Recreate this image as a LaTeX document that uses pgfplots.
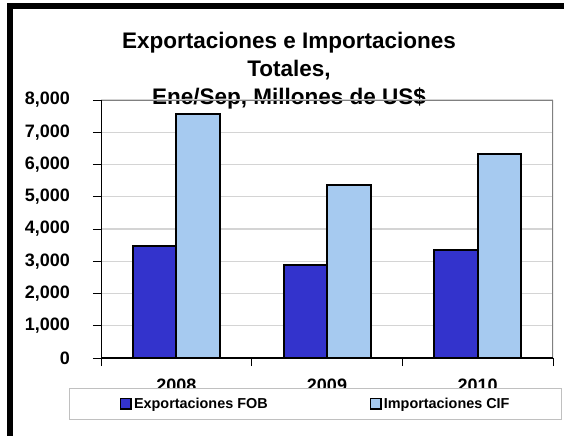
\documentclass[border=0pt]{standalone}
\usepackage{pgfplots}
\pgfplotsset{compat=1.18}
\usepackage{fontspec}
\setmainfont{Liberation Sans}
\definecolor{expblue}{RGB}{51,51,204}
\definecolor{impblue}{RGB}{166,202,240}
\definecolor{gridgray}{RGB}{212,212,212}
\definecolor{framegray}{RGB}{128,128,128}
\definecolor{leggray}{RGB}{192,192,192}
\begin{document}
\begin{tikzpicture}[x=1pt,y=1pt]
\useasboundingbox (0,0) rectangle (564,436);
\fill[white] (0,0) rectangle (564,436);
\fill[black] (7,0) rectangle (13,433);
\fill[black] (7,427) rectangle (564,433);
\node[font=\fontsize{22.5}{27}\selectfont\bfseries, anchor=base, inner sep=0pt] at (289,436-48.3) {Exportaciones e Importaciones};
\node[font=\fontsize{22.5}{27}\selectfont\bfseries, anchor=base, inner sep=0pt] at (289,436-76.7) {Totales,};
\node[font=\fontsize{22.5}{27}\selectfont\bfseries, anchor=base, inner sep=0pt] at (289,436-105) {Ene/Sep, Millones de US\$};
\begin{axis}[
  at={(101pt,78pt)}, anchor=south west,
  scale only axis, width=452pt, height=258pt,
  xmin=0, xmax=3, ymin=0, ymax=8000,
  ybar, bar width=43.5pt,
  axis line style={draw=none},
  tick align=outside,
  major tick length=8pt,
  tick style={black, line width=1pt},
  xtick={0,1,2,3}, xticklabels={,,,},
  extra x ticks={0.5,1.5,2.5},
  extra x tick labels={2008,2009,2010},
  extra x tick style={major tick length=0pt, grid=none},
  xtick pos=bottom, ytick pos=left,
  ytick={0,1000,...,8000},
  ymajorgrids,
  major grid style={gridgray, line width=1.2pt},
  /pgf/number format/assume math mode=true,
  /pgf/number format/.cd, 1000 sep={,}, /pgfplots/.cd,
  scaled y ticks=false,
  yticklabel style={font=\fontsize{18}{20}\selectfont\bfseries, inner sep=0pt, anchor=east, xshift=-23pt},
  xticklabel style={font=\fontsize{18}{20}\selectfont\bfseries, inner sep=0pt, anchor=north, yshift=-21pt},
  legend columns=2,
  legend style={at={(axis description cs:0.475,-0.1775)}, anchor=center,
    draw=leggray, line width=0.8pt, fill=white,
    font=\fontsize{14.4}{16}\selectfont\bfseries,
    inner xsep=50pt, inner ysep=7.5pt,
    /tikz/every even column/.append style={column sep=100pt}},
  legend image code/.code={\draw[#1, line width=1.6pt] (0pt,-5.3pt) rectangle (10.6pt,5.3pt);},
]
\addplot[fill=expblue, draw=black, line width=2pt, bar shift=-21.75pt] coordinates {(0.5,3480) (1.5,2880) (2.5,3340)};
\addplot[fill=impblue, draw=black, line width=2pt, bar shift=21.75pt] coordinates {(0.5,7570) (1.5,5350) (2.5,6320)};
\draw[framegray, line width=1.2pt] (rel axis cs:0,1) -- (rel axis cs:1,1) -- (rel axis cs:1,0);
\draw[black, line width=1.2pt] (rel axis cs:0,1) -- (rel axis cs:0,0) -- (rel axis cs:1,0);
\legend{Exportaciones FOB, Importaciones CIF}
\end{axis}
\end{tikzpicture}
\end{document}
